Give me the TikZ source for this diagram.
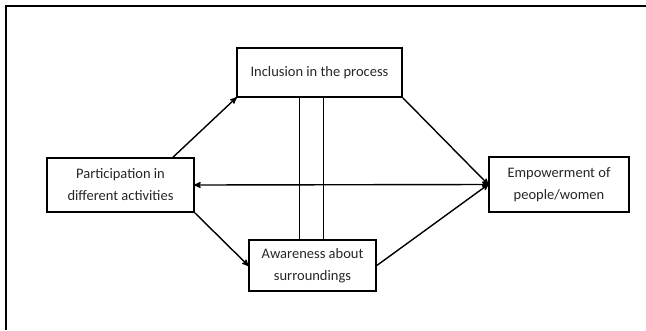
\documentclass[tikz,border=0pt]{standalone}
\usepackage{fontspec}
\setmainfont{Carlito}
\usetikzlibrary{positioning, arrows}
\tikzset{
>=stealth', % filled arrow heads
every factor/.style={draw, line width=1.6pt, align=center, font=\fontsize{14.5}{22}\selectfont, text=black!85, inner sep=0pt}, % the boxes
link/.style={->, line width=1.4pt, shorten >=-1pt}, % directed links between boxes
}

\begin{document}
\begin{tikzpicture}[x=1pt, y=-1pt]
                \useasboundingbox (0,0) rectangle (646,330);
                % open frame round the figure
                \draw[line width=2pt] (6,330) -- (6,6) -- (646,6);

                \node[every factor, minimum width=165, minimum height=49] (incl) at (319.5,72.5) {Inclusion in the process};
                \node[every factor, minimum width=147, minimum height=54] (part) at (120.5,185) {Participation in\\different activities};
                \node[every factor, minimum width=127, minimum height=51] (aware) at (312.5,265.5) {Awareness about\\surroundings};
                \node[every factor, minimum width=140, minimum height=55] (empow) at (559,184.5) {Empowerment of\\people/women};

                \draw[line width=0.9pt]
                    (incl.south -| 299,0) -- (aware.north -| 299,0)
                    (incl.south -| 323,0) -- (aware.north -| 323,0);

                \draw
                    (part.north -| 173,0) edge[link] (incl.south west)
                    (part.south east) edge[link] (aware.west)
                    (incl.south east) edge[link] (empow.west)
                    (aware.east) edge[link] (empow.west)
                    (part.east) edge[link, <->, shorten <=-1pt] (empow.west);
                \end{tikzpicture}
\end{document}
